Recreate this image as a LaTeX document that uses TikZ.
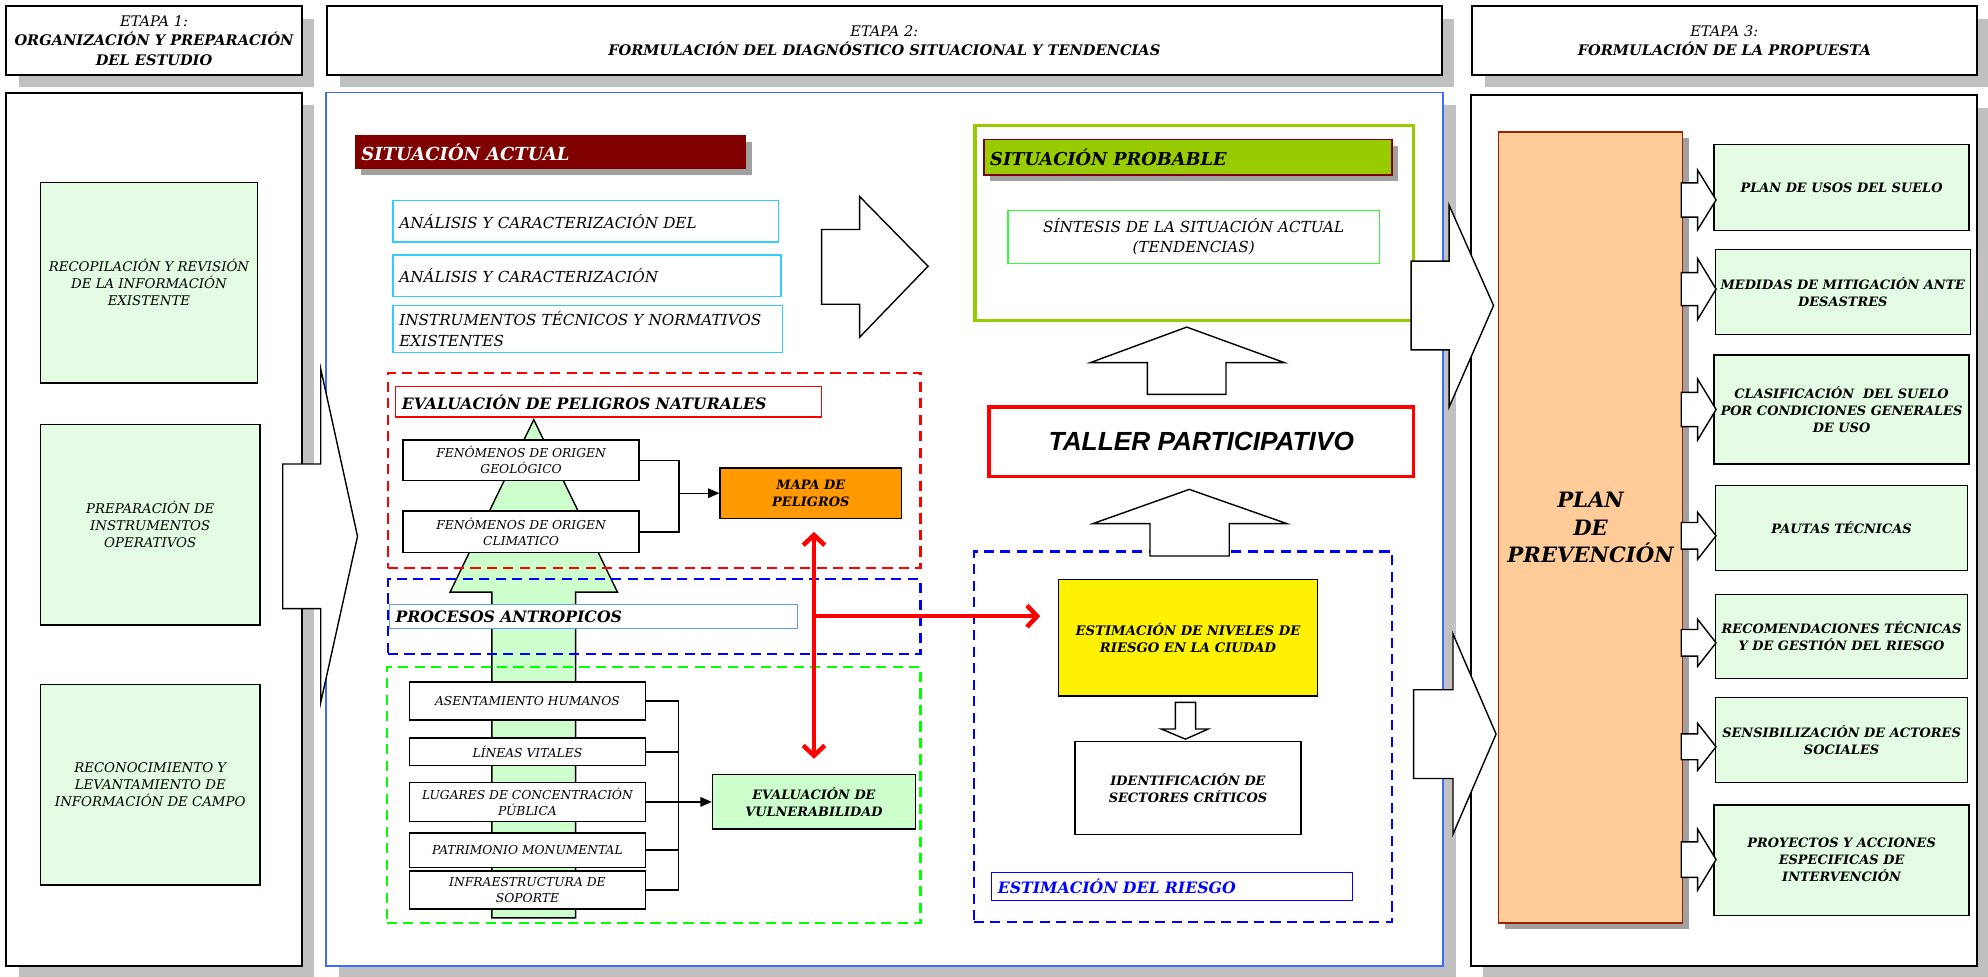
\documentclass[tikz,border=0pt]{standalone}
\usepackage{fontspec}
\setmainfont{DejaVu Serif}
\newfontfamily\arialf{Liberation Sans}
\usetikzlibrary{arrows.meta,shadows,calc}

\definecolor{lgreen}{RGB}{227,252,227}
\definecolor{mgreen}{RGB}{204,255,204}
\definecolor{shgray}{RGB}{192,192,192}
\definecolor{shdark}{RGB}{160,160,160}
\definecolor{dred}{RGB}{128,0,0}
\definecolor{ygreen}{RGB}{153,204,0}
\definecolor{orng}{RGB}{255,153,0}
\definecolor{peach}{RGB}{255,204,153}
\definecolor{cyanb}{RGB}{51,204,255}
\definecolor{pblue}{RGB}{61,107,255}
\definecolor{lblue}{RGB}{102,150,255}
\definecolor{bgreen}{RGB}{51,255,51}
\definecolor{plred}{RGB}{153,34,0}

\newcommand\fs[2]{\fontsize{#1}{#2}\selectfont}
\newcommand\ti{\itshape}
\newcommand\tbi{\bfseries\itshape}

% centred box: [style]{name}{x1}{y1}{x2}{y2}{text}
\newcommand\bx[7][]{%
  \pgfmathsetmacro\bxw{#5-#3}\pgfmathsetmacro\bxh{#6-#4}%
  \pgfmathsetmacro\bxx{(#3+#5)/2}\pgfmathsetmacro\bxy{(#4+#6)/2}%
  \node[#1, minimum width=\bxw pt, minimum height=\bxh pt] (#2) at (\bxx,\bxy) {#7};}
% left aligned box
\newcommand\bxl[7][]{%
  \pgfmathsetmacro\bxw{#5-#3}\pgfmathsetmacro\bxh{#6-#4}%
  \pgfmathsetmacro\bxt{#5-#3-10}%
  \pgfmathsetmacro\bxx{(#3+#5)/2}\pgfmathsetmacro\bxy{(#4+#6)/2}%
  \node[#1, minimum width=\bxw pt, minimum height=\bxh pt, text width=\bxt pt, align=left] (#2) at (\bxx,\bxy) {#7};}

\tikzset{
  every node/.style={inner sep=0pt, align=center},
  bigshadow/.style={drop shadow={shadow xshift=10pt,shadow yshift=-10pt,fill=shgray,opacity=1}},
  smallshadow/.style={drop shadow={shadow xshift=5pt,shadow yshift=-5pt,fill=shdark,opacity=1}},
  hdr/.style={draw=black, line width=1.5pt, fill=white, bigshadow, font=\fs{11.5}{15.3}},
  panel/.style={draw=black, line width=1.6pt, fill=white, bigshadow},
  gbox/.style={draw=black, line width=1.1pt, fill=lgreen},
  wbox/.style={draw=black, line width=1.1pt, fill=white},
  cbox/.style={draw=cyanb, line width=1.2pt, fill=white, font=\fs{12}{16}\ti},
  dframe/.style={line width=1.7pt, dash pattern=on 8pt off 5pt},
  barrow/.style={draw=black, fill=white, line width=1.1pt, line join=miter},
  conn/.style={line width=1.1pt},
  tip/.style={-{Triangle[length=9pt,width=7.5pt]}},
  redarr/.style={draw=red, line width=3.6pt},
  sit/.style={font=\fs{9.7}{12.5}\ti},
  sbi/.style={font=\fs{10.2}{13.4}\tbi},
}

\newcommand\sarr[3]{\draw[barrow] (1326,#1-#2) -- (1339,#1-#2) -- (1339,#1-#3) -- (1353.5,#1) -- (1339,#1+#3) -- (1339,#1+#2) -- (1326,#1+#2) -- cycle;}

\begin{document}
\begin{tikzpicture}[x=1pt,y=-1pt]
\useasboundingbox (0,0) rectangle (1568,770);
\fill[white] (0,0) rectangle (1568,770);

% ---------------- headers
\bx[hdr]{h1}{5}{5}{238}{59}{{\ti ETAPA 1:}\\{\tbi ORGANIZACIÓN Y PREPARACIÓN}\\{\tbi DEL ESTUDIO}}
\bx[hdr]{h2}{258}{5}{1137}{59}{{\ti ETAPA 2:}\\{\tbi FORMULACIÓN DEL DIAGNÓSTICO SITUACIONAL Y TENDENCIAS}}
\bx[hdr]{h3}{1161}{5}{1559}{59}{{\ti ETAPA 3:}\\{\tbi FORMULACIÓN DE LA PROPUESTA}}

% ---------------- panels
\bx[panel]{p1}{5}{73}{238}{762}{}
\bx[panel, draw=pblue, line width=1.3pt]{p2}{257}{73}{1138}{762}{}
\bx[panel]{p3}{1160}{75}{1559}{762}{}

% ---------------- stage 1
\bx[gbox, font=\fs{10.5}{13.4}\ti]{a1}{32}{144}{203}{302}{RECOPILACIÓN Y REVISIÓN\\DE LA INFORMACIÓN\\EXISTENTE}
\bx[gbox, font=\fs{10.5}{13.4}\ti]{a2}{32}{335}{205}{493}{PREPARACIÓN DE\\INSTRUMENTOS\\OPERATIVOS}
\bx[gbox, font=\fs{10.5}{13.4}\ti]{a3}{32}{540}{205}{698}{RECONOCIMIENTO Y\\LEVANTAMIENTO DE\\INFORMACIÓN DE CAMPO}

\draw[barrow] (223,366) -- (253,366) -- (253,291) -- (282,423) -- (253,554) -- (253,480) -- (223,480) -- cycle;

% ---------------- stage 2, left part
\bxl[fill=dred, draw=dred, smallshadow, text=white, font=\fs{14.2}{16}\tbi]{sa}{280}{107}{588}{133}{SITUACIÓN ACTUAL}
\bxl[cbox]{c1}{310}{158}{614}{191}{ANÁLISIS Y CARACTERIZACIÓN DEL}
\bxl[cbox]{c2}{310}{201}{616}{234}{ANÁLISIS Y CARACTERIZACIÓN}
\bxl[cbox]{c3}{310}{241}{617}{278}{INSTRUMENTOS TÉCNICOS Y NORMATIVOS\\EXISTENTES}

\draw[barrow] (648,181) -- (678,181) -- (678,155) -- (732,210) -- (678,266) -- (678,240) -- (648,240) -- cycle;

% green upward arrow
\draw[barrow, fill=mgreen] (388,724) -- (388,467) -- (355,467) -- (421,331) -- (487,467) -- (454,467) -- (454,724) -- cycle;

% dashed frames
\bx[dframe, draw=red]{rf}{306}{294}{726}{448}{}
\bx[dframe, draw=blue]{bf}{306}{457}{726}{516}{}
\bx[dframe, draw=green]{gf}{305}{526}{726}{728}{}

\bxl[draw=red, line width=1pt, fill=white, font=\fs{12.4}{14}\tbi]{ep}{312}{305}{648}{329}{EVALUACIÓN DE PELIGROS NATURALES}
\bx[wbox, sit]{geo}{318}{347}{504}{379}{FENÓMENOS DE ORIGEN\\GEOLÓGICO}
\bx[wbox, sit]{clim}{318}{403}{504}{436}{FENÓMENOS DE ORIGEN\\CLIMATICO}
\bx[wbox, fill=orng, sbi]{mapa}{568}{369}{711}{409}{MAPA DE\\PELIGROS}

\bxl[draw=lblue, line width=1pt, fill=white, font=\fs{12.4}{14}\tbi]{pa}{307}{477}{629}{496}{PROCESOS ANTROPICOS}

\bx[wbox, sit]{ase}{323}{538}{509}{568}{ASENTAMIENTO HUMANOS}
\bx[wbox, sit]{lin}{323}{582}{509}{604}{LÍNEAS VITALES}
\bx[wbox, sit]{lug}{323}{617}{509}{648}{LUGARES DE CONCENTRACIÓN\\PÚBLICA}
\bx[wbox, sit]{pat}{323}{657}{509}{684}{PATRIMONIO MONUMENTAL}
\bx[wbox, sit]{inf}{323}{687}{509}{717}{INFRAESTRUCTURA DE\\SOPORTE}
\bx[wbox, fill=mgreen, sbi]{vul}{562}{611}{722}{654}{EVALUACIÓN DE\\VULNERABILIDAD}

\coordinate (j1) at (535.5,389);
\draw[conn] (geo.east) -| (j1) |- (clim.east);
\draw[conn, tip] (j1) -- (mapa.west);
\coordinate (j2) at (535,632.5);
\draw[conn] (ase.east) -| (j2) |- (inf.east);
\draw[conn] (lin.east) -- (lin.east -| j2);
\draw[conn] (pat.east) -- (pat.east -| j2);
\draw[conn, tip] (lug.east) -- (vul.west);

% ---------------- stage 2, right part
\bx[draw=ygreen, line width=2.4pt]{spf}{769}{99}{1115}{253}{}
\bxl[fill=ygreen, draw=dred, line width=1pt, smallshadow, font=\fs{14}{16}\tbi]{spb}{776}{110}{1098}{138}{SITUACIÓN PROBABLE}
\bx[draw=bgreen, line width=1pt, fill=white, font=\fs{12}{15.8}\ti]{sin}{795}{166}{1088}{208}{SÍNTESIS DE LA SITUACIÓN ACTUAL\\(TENDENCIAS)}

\draw[barrow] (905,311) -- (905,286) -- (860,286) -- (936,258) -- (1013,286) -- (967,286) -- (967,311) -- cycle;
\bx[draw=red, line width=2.5pt, fill=white, font=\arialf\fs{20.7}{23}\bfseries\itshape]{tal}{780}{321}{1115}{376}{TALLER PARTICIPATIVO}

\bx[dframe, draw=blue]{er}{768}{435}{1098}{727}{}
\draw[barrow] (907,438.5) -- (907,413) -- (862,413) -- (938,386) -- (1015,413) -- (969.5,413) -- (969.5,438.5) -- cycle;
\bx[wbox, fill=yellow, font=\fs{10.4}{13.7}\tbi]{est}{835}{457}{1039}{549}{ESTIMACIÓN DE NIVELES DE\\RIESGO EN LA CIUDAD}
\draw[barrow] (927,554) -- (943,554) -- (943,575) -- (953,575) -- (935,583) -- (916,575) -- (927,575) -- cycle;
\bx[wbox, sbi]{idf}{848}{585}{1026}{658}{IDENTIFICACIÓN DE\\SECTORES CRÍTICOS}
\bxl[draw=blue, line width=1pt, fill=white, text=blue, font=\fs{12.4}{14}\tbi]{edr}{782}{688}{1067}{710}{ESTIMACIÓN DEL RIESGO}

% red arrows
\coordinate (rj) at (642,486);
\draw[redarr, {Straight Barb[length=8pt,width=17pt]}-{Straight Barb[length=8pt,width=17pt]}] ($(rj|-mapa.south)+(0,10)$) -- ($(rj|-vul.north)+(0,-12)$);
\draw[redarr, -{Straight Barb[length=8pt,width=17pt]}] (rj) -- ($(est.west|-rj)+(-14,0)$);

% big arrows to stage 3
\draw[barrow] (1113,206) -- (1143,206) -- (1143,162) -- (1178,241) -- (1143,321) -- (1143,276) -- (1113,276) -- cycle;
\draw[barrow] (1115,544) -- (1146,544) -- (1146,500) -- (1180,579) -- (1146,658) -- (1146,614) -- (1115,614) -- cycle;

% ---------------- stage 3
\bx[fill=peach, draw=plred, line width=1.3pt, smallshadow, font=\fs{16.7}{22}\tbi]{plan}{1182}{104}{1327}{728}{PLAN\\DE\\PREVENCIÓN}
\bx[gbox, sbi]{g1}{1352}{114}{1553}{182}{PLAN DE USOS DEL SUELO}
\bx[gbox, sbi]{g2}{1353}{197}{1554}{264}{MEDIDAS DE MITIGACIÓN ANTE\\DESASTRES}
\bx[gbox, sbi]{g3}{1352}{280}{1553}{366}{CLASIFICACIÓN~ DEL SUELO\\POR CONDICIONES GENERALES\\DE USO}
\bx[gbox, sbi]{g4}{1353}{383}{1552}{450}{PAUTAS TÉCNICAS}
\bx[gbox, sbi]{g5}{1353}{469}{1552}{535}{RECOMENDACIONES TÉCNICAS\\Y DE GESTIÓN DEL RIESGO}
\bx[gbox, sbi]{g6}{1353}{550}{1552}{617}{SENSIBILIZACIÓN DE ACTORES\\SOCIALES}
\bx[gbox, sbi]{g7}{1352}{635}{1553}{722}{PROYECTOS Y ACCIONES\\ESPECIFICAS DE\\INTERVENCIÓN}

\sarr{157.7}{13.5}{23.5}
\sarr{228}{13}{24}
\sarr{323}{13.5}{24}
\sarr{422.6}{10.5}{18.5}
\sarr{507}{10.5}{18.5}
\sarr{589}{10.2}{18.5}
\sarr{678}{14}{24}
\end{tikzpicture}
\end{document}
